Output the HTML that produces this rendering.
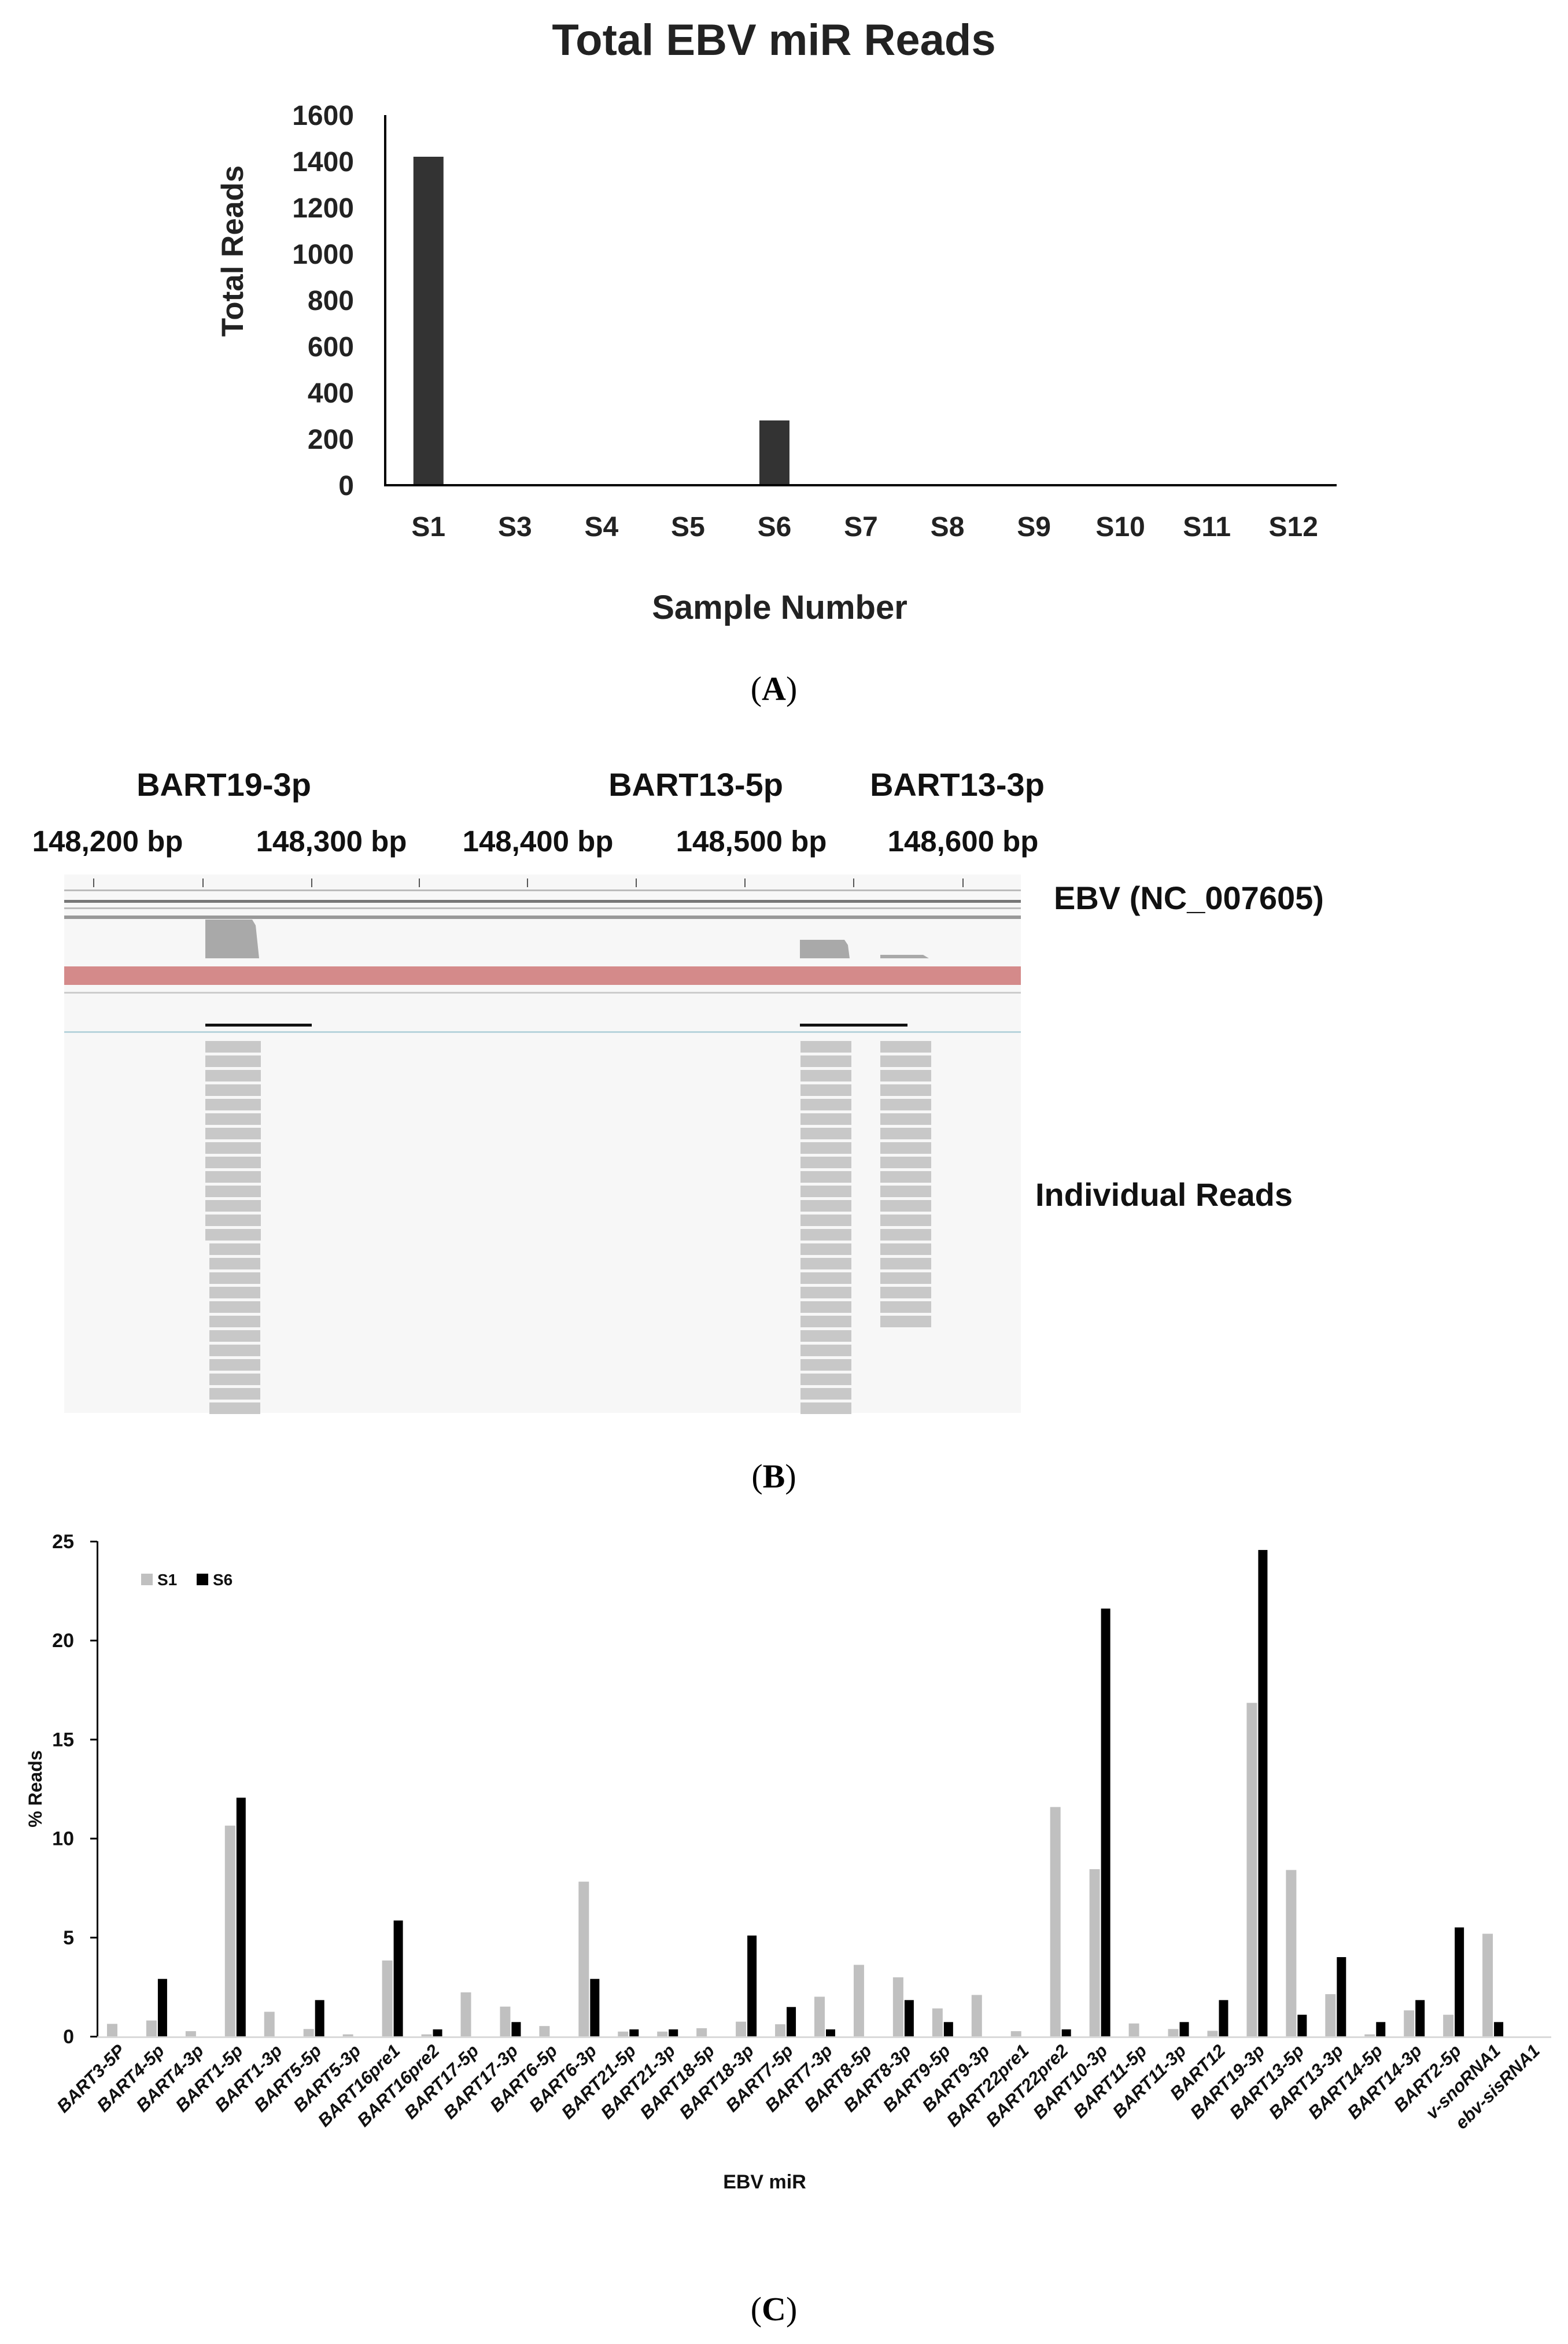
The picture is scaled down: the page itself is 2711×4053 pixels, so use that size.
<!DOCTYPE html>
<html><head><meta charset="utf-8"><style>
html,body{margin:0;padding:0;background:#fff;}
svg{display:block;}
text{font-family:"Liberation Sans",sans-serif;}
</style></head>
<body>
<svg id="fig" xmlns="http://www.w3.org/2000/svg" width="2711" height="4053" viewBox="0 0 2711 4053">
  <!-- Panel A -->
  <g id="panelA">
    <text x="1338" y="95" text-anchor="middle" font-size="76" font-weight="bold" fill="#222">Total EBV miR Reads</text>
    <text transform="translate(420,434) rotate(-90)" text-anchor="middle" font-size="53" font-weight="bold" fill="#222">Total Reads</text>
    <text x="1348" y="1070" text-anchor="middle" font-size="58" font-weight="bold" fill="#222">Sample Number</text>
    <text x="1338" y="1210" text-anchor="middle" font-size="58" fill="#000" style="font-family:'Liberation Serif',serif">(<tspan font-weight="bold">A</tspan>)</text>
  </g>
  <!-- Panel B -->
  <g id="panelB">
    <text x="387" y="1376" text-anchor="middle" font-size="56" font-weight="bold" fill="#111">BART19-3p</text>
    <text x="1203" y="1376" text-anchor="middle" font-size="56" font-weight="bold" fill="#111">BART13-5p</text>
    <text x="1655" y="1376" text-anchor="middle" font-size="56" font-weight="bold" fill="#111">BART13-3p</text>
    <text x="186" y="1472" text-anchor="middle" font-size="51" font-weight="bold" fill="#111">148,200 bp</text>
    <text x="573" y="1472" text-anchor="middle" font-size="51" font-weight="bold" fill="#111">148,300 bp</text>
    <text x="930" y="1472" text-anchor="middle" font-size="51" font-weight="bold" fill="#111">148,400 bp</text>
    <text x="1299" y="1472" text-anchor="middle" font-size="51" font-weight="bold" fill="#111">148,500 bp</text>
    <text x="1665" y="1472" text-anchor="middle" font-size="51" font-weight="bold" fill="#111">148,600 bp</text>
    <rect x="111" y="1512" width="1654" height="931" fill="#f7f7f7"/>
    <g id="ruler"></g>
    <rect x="111" y="1538" width="1654" height="3" fill="#bbb"/>
    <rect x="111" y="1556" width="1654" height="5" fill="#777"/>
    <rect x="111" y="1569" width="1654" height="3" fill="#bbb"/>
    <rect x="111" y="1583" width="1654" height="6" fill="#999"/>
    <path d="M355 1657 L355 1590 L436 1590 L442 1600 L448 1657 Z" fill="#a9a9a9"/>
    <path d="M1383 1657 L1383 1625 L1460 1625 L1466 1634 L1469 1657 Z" fill="#a9a9a9"/>
    <path d="M1522 1657 L1522 1651 L1596 1651 L1606 1657 Z" fill="#a9a9a9"/>
    <rect x="111" y="1671" width="1654" height="32" fill="#d48a8a"/>
    <rect x="111" y="1715" width="1654" height="3" fill="#ccc"/>
    <rect x="355" y="1770" width="184" height="5" fill="#111"/>
    <rect x="1383" y="1770" width="186" height="5" fill="#111"/>
    <rect x="111" y="1783" width="1654" height="3" fill="#b8d4dc"/>
    <g id="reads"></g>
    <text x="1822" y="1572" font-size="56" font-weight="bold" fill="#111">EBV (NC_007605)</text>
    <text x="1790" y="2085" font-size="56" font-weight="bold" fill="#111">Individual Reads</text>
    <text x="1338" y="2572" text-anchor="middle" font-size="58" fill="#000" style="font-family:'Liberation Serif',serif">(<tspan font-weight="bold">B</tspan>)</text>
  </g>
  <!-- Panel C -->
  <g id="panelC">
    <text transform="translate(72,3093) rotate(-90)" text-anchor="middle" font-size="32" font-weight="bold" fill="#111">% Reads</text>
    <text x="1322" y="3784" text-anchor="middle" font-size="34" font-weight="bold" fill="#111">EBV miR</text>
    <rect x="244" y="2721" width="20" height="20" fill="#c0c0c0"/>
    <text x="272" y="2741" font-size="28" font-weight="bold" fill="#111">S1</text>
    <rect x="340" y="2721" width="20" height="20" fill="#000"/>
    <text x="368" y="2741" font-size="28" font-weight="bold" fill="#111">S6</text>
    <text x="1338" y="4012" text-anchor="middle" font-size="58" fill="#000" style="font-family:'Liberation Serif',serif">(<tspan font-weight="bold">C</tspan>)</text>
  </g>
</svg>
<script>
const NS = "http://www.w3.org/2000/svg";
// Panel A data
const samplesA = ["S1","S3","S4","S5","S6","S7","S8","S9","S10","S11","S12"];
const readsA = [1420,0,0,0,280,0,0,0,0,0,0];
const ticksA = [0,200,400,600,800,1000,1200,1400,1600];
// Panel C data
const mirsC = ["BART3-5P","BART4-5p","BART4-3p","BART1-5p","BART1-3p","BART5-5p","BART5-3p","BART16pre1","BART16pre2","BART17-5p","BART17-3p","BART6-5p","BART6-3p","BART21-5p","BART21-3p","BART18-5p","BART18-3p","BART7-5p","BART7-3p","BART8-5p","BART8-3p","BART9-5p","BART9-3p","BART22pre1","BART22pre2","BART10-3p","BART11-5p","BART11-3p","BART12","BART19-3p","BART13-5p","BART13-3p","BART14-5p","BART14-3p","BART2-5p","v-snoRNA1","ebv-sisRNA1"];
const s1C = [0.63,0.8,0.26,10.64,1.24,0.37,0.1,3.83,0.1,2.22,1.5,0.52,7.81,0.24,0.24,0.41,0.74,0.61,2.0,3.61,2.98,1.41,2.09,0.26,11.58,8.44,0.65,0.37,0.28,16.84,8.4,2.13,0.1,1.31,1.09,5.18,0];
const s6C = [0,2.9,0,12.05,0,1.83,0,5.85,0.35,0,0.72,0,2.9,0.35,0.35,0,5.09,1.48,0.35,0,1.83,0.72,0,0,0.35,21.6,0,0.72,1.83,24.56,1.09,4.0,0.72,1.83,5.5,0.72,0];
const ticksC = [0,5,10,15,20,25];

function mk(tag, attrs, parent){
  const el = document.createElementNS(NS, tag);
  for (const k in attrs) el.setAttribute(k, attrs[k]);
  parent.appendChild(el);
  return el;
}
// ---- Panel A ----
const gA = document.getElementById('panelA');
const aX0 = 666, aX1 = 2311, aY0 = 839, aY1 = 199, aMax = 1600;
const aStep = (aX1 - aX0) / samplesA.length;
const yA = v => aY0 - (v / aMax) * (aY0 - aY1);
const xA = i => aX0 + aStep * (i + 0.5);
ticksA.forEach(t => {
  const tx = mk('text', {x: 612, y: yA(t) + 17, 'text-anchor': 'end', 'font-size': 48, 'font-weight': 'bold', fill: '#222'}, gA);
  tx.textContent = t;
  
  
});
samplesA.forEach((s, i) => {
  const h = aY0 - yA(readsA[i]);
  const r = mk('rect', {x: xA(i) - 26, y: yA(readsA[i]), width: 52, height: h, fill: '#333'}, gA);
  
  
  const tx = mk('text', {x: xA(i), y: 927, 'text-anchor': 'middle', 'font-size': 48, 'font-weight': 'bold', fill: '#222'}, gA);
  tx.textContent = s;
  
  
});
const axA1 = mk('rect', {x: aX0 - 2, y: aY1, width: 4, height: aY0 - aY1 + 2, fill: '#000'}, gA);


const axA2 = mk('rect', {x: aX0 - 2, y: aY0 - 2, width: aX1 - aX0 + 2, height: 4, fill: '#000'}, gA);



// ---- Panel B ----
const ruler = document.getElementById('ruler');
[162,351,539,725,912,1100,1288,1476,1665].forEach(x => {
  const t = mk('rect', {x: x - 1, y: 1519, width: 2, height: 15, fill: '#555'}, ruler);
  
  
});
const reads = document.getElementById('reads');
function readCol(x0, w, n, name){
  for (let k = 0; k < n; k++){
    const r = mk('rect', {x: x0, y: 1800 + k * 25, width: w, height: 20, fill: '#c8c8c8'}, reads);
    
    
  }
}
readCol(355, 96, 14, 'read-bart19-3p');
for (let k = 14; k < 26; k++){
  const r = mk('rect', {x: 362, y: 1800 + k * 25, width: 88, height: 20, fill: '#c8c8c8'}, reads);
  
  
}
readCol(1384, 88, 26, 'read-bart13-5p');
readCol(1522, 88, 20, 'read-bart13-3p');

// ---- Panel C ----
const gC = document.getElementById('panelC');
const cX0 = 168, cX1 = 2682, cY0 = 3521, cY1 = 2665, cMax = 25;
const cStep = (cX1 - cX0) / mirsC.length;
const yC = v => cY0 - (v / cMax) * (cY0 - cY1);
const xC = i => cX0 + cStep * (i + 0.5);
ticksC.forEach(t => {
  const tx = mk('text', {x: 128, y: yC(t) + 12, 'text-anchor': 'end', 'font-size': 34, 'font-weight': 'bold', fill: '#111'}, gC);
  tx.textContent = t;
  
  
  const tk = mk('rect', {x: cX0 - 12, y: yC(t) - 1, width: 12, height: 3, fill: '#000'}, gC);
  
  
});
mirsC.forEach((m, i) => {
  const c = xC(i);
  const b1 = mk('rect', {x: c - 17, y: yC(s1C[i]), width: 18, height: cY0 - yC(s1C[i]), fill: '#c0c0c0'}, gC);
  
  
  const b2 = mk('rect', {x: c + 3, y: yC(s6C[i]), width: 16, height: cY0 - yC(s6C[i]), fill: '#000'}, gC);
  
  
  const tx = mk('text', {transform: 'translate(' + (c + 16) + ',3548) rotate(-45)', 'text-anchor': 'end', 'font-size': 31, 'font-weight': 'bold', 'font-style': 'italic', fill: '#111'}, gC);
  tx.textContent = m;
  
  
});
const axC1 = mk('rect', {x: cX0 - 1, y: cY1, width: 3, height: cY0 - cY1 + 2, fill: '#000'}, gC);


const axC2 = mk('rect', {x: cX0, y: cY0, width: cX1 - cX0, height: 3, fill: '#d9d9d9'}, gC);


</script>
</body></html>
